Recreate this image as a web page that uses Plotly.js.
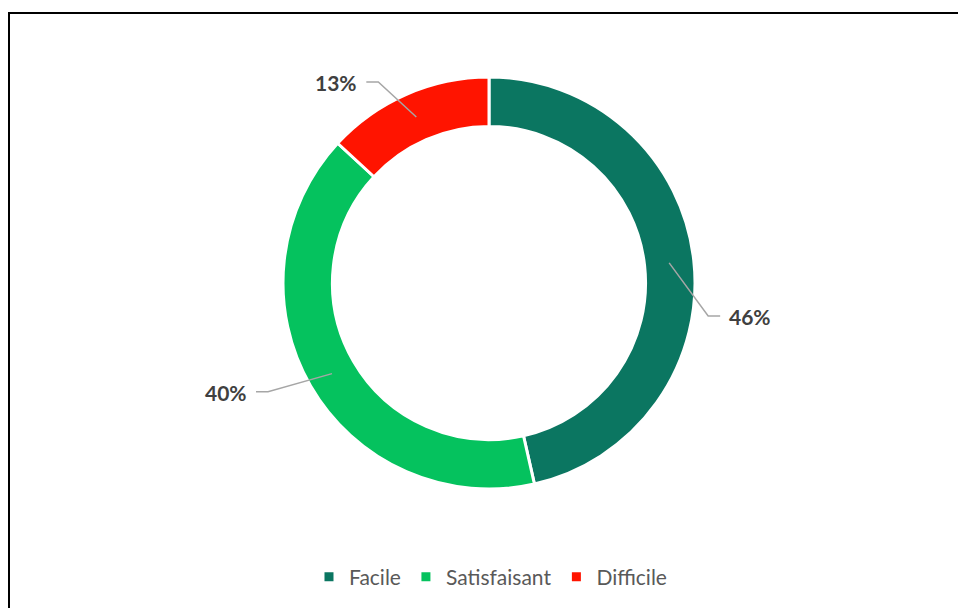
<!DOCTYPE html>
<html>
<head>
<meta charset="utf-8">
<script src="https://cdn.plot.ly/plotly-3.0.1.min.js"></script>
<style>
  html, body { margin: 0; padding: 0; background: #fff; }
  #chart { width: 958px; height: 608px; }
</style>
</head>
<body>
<div id="chart"></div>
<script>
// ---- data ----
const categories = ['Facile', 'Satisfaisant', 'Difficile'];
const values = [46, 40, 13];
const colors = ['#0B7661', '#05C25E', '#FF1400'];

// ---- layout constants ----
const W = 958, H = 608;
const cx = 489, cy = 283, R = 206, hole = 0.76;
// elbow offset of each leader line (px) from its anchor on the ring
const elbowOffsets = [[39, 53], [-64, 18], [-38, -35]];
const tailLen = 12, textGap = 7;

const total = values.reduce((a, b) => a + b, 0);
const annotations = [];
const shapes = [];
const toX = px => px / W, toY = py => 1 - py / H;
let start = 0;
values.forEach((v, i) => {
  const frac = v / total;
  const mid = (start + frac / 2) * 2 * Math.PI;
  start += frac;
  const rm = R * (1 + hole) / 2;
  const px = cx + rm * Math.sin(mid);
  const py = cy - rm * Math.cos(mid);
  const side = elbowOffsets[i][0] >= 0 ? 1 : -1;
  const ex = px + elbowOffsets[i][0], ey = py + elbowOffsets[i][1];
  const tx = ex + side * tailLen;
  shapes.push({
    type: 'path', xref: 'paper', yref: 'paper',
    path: `M ${toX(px)} ${toY(py)} L ${toX(ex)} ${toY(ey)} L ${toX(tx)} ${toY(ey)}`,
    line: { color: '#A6A6A6', width: 1.5 }
  });
  annotations.push({
    x: toX(tx + side * textGap), y: toY(ey + 1), xref: 'paper', yref: 'paper',
    xanchor: side > 0 ? 'left' : 'right', yanchor: 'middle',
    text: '<b>' + Math.round(frac * 100) + '%</b>',
    showarrow: false,
    font: { family: 'Lato, "Open Sans", sans-serif', size: 21, color: '#404040' }
  });
});

shapes.push(
  { type: 'line', xref: 'paper', yref: 'paper', x0: 9 / W, x1: 9 / W, y0: 0, y1: 1 - 12 / H,
    line: { color: '#000000', width: 2 } },
  { type: 'line', xref: 'paper', yref: 'paper', x0: 8 / W, x1: 1, y0: 1 - 13 / H, y1: 1 - 13 / H,
    line: { color: '#000000', width: 2 } }
);

const trace = {
  type: 'pie',
  labels: categories,
  values: values,
  hole: hole,
  sort: false,
  direction: 'clockwise',
  rotation: 0,
  textinfo: 'none',
  hoverinfo: 'label+percent',
  marker: { colors: colors, line: { color: '#FFFFFF', width: 3 } },
  domain: { x: [(cx - R) / W, (cx + R) / W], y: [1 - (cy + R) / H, 1 - (cy - R) / H] }
};

const layout = {
  width: W, height: H,
  margin: { l: 0, r: 0, t: 0, b: 0 },
  paper_bgcolor: '#FFFFFF',
  showlegend: true,
  legend: {
    orientation: 'h', x: 0.512, xanchor: 'center', y: 1 - 577 / H, yanchor: 'middle',
    font: { family: 'Lato, "Open Sans", sans-serif', size: 21, color: '#595959' },
    itemwidth: 30, traceorder: 'normal'
  },
  annotations: annotations,
  shapes: shapes
};

Plotly.newPlot('chart', [trace], layout, { displayModeBar: false, staticPlot: true });
</script>
</body>
</html>
